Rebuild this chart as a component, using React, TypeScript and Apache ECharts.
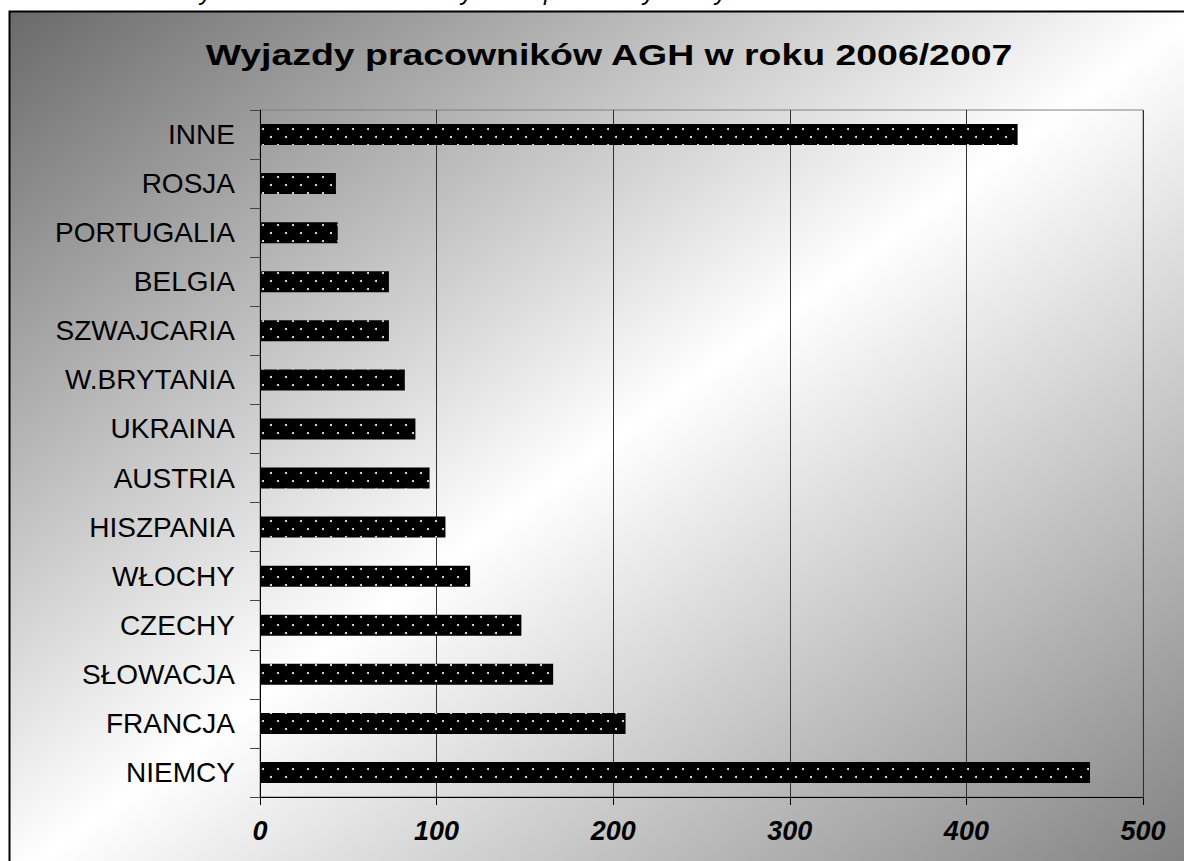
import React, { useEffect, useRef } from "react";
import * as echarts from "echarts";

const categories = [
  "INNE",
  "ROSJA",
  "PORTUGALIA",
  "BELGIA",
  "SZWAJCARIA",
  "W.BRYTANIA",
  "UKRAINA",
  "AUSTRIA",
  "HISZPANIA",
  "WŁOCHY",
  "CZECHY",
  "SŁOWACJA",
  "FRANCJA",
  "NIEMCY",
];
const values = [429, 43, 44, 73, 73, 82, 88, 96, 105, 119, 148, 166, 207, 470];
const titleText = "Wyjazdy pracowników AGH w roku 2006/2007";
const topCutGlyphs = [
  { ch: "y", x: 200 },
  { ch: "y", x: 461 },
  { ch: "p", x: 544 },
  { ch: "y", x: 643 },
  { ch: "y", x: 715 },
];

export default function App() {
  const ref = useRef<HTMLDivElement>(null);
  useEffect(() => {
    if (!ref.current) return;
    const chart = echarts.init(ref.current, undefined, { renderer: "svg" });
    const font = '"Liberation Sans", Arial, sans-serif';
    chart.setOption({
      animation: false,
      graphic: [
        {
          type: "rect",
          z: -100,
          silent: true,
          shape: { x: 9.5, y: 11.5, width: 1190, height: 870 },
          style: {
            fill: new echarts.graphic.LinearGradient(0, 0, 1, 1, [
              { offset: 0, color: "#6a6a6a" },
              { offset: 0.5, color: "#ffffff" },
              { offset: 1, color: "#7e7e7e" },
            ]),
            stroke: "#000",
            lineWidth: 2,
          },
        },
        {
          type: "text",
          z: 10,
          x: 609,
          y: 55,
          scaleX: 1.29,
          style: {
            text: titleText,
            font: `bold 29px ${font}`,
            fill: "#000",
            textAlign: "center",
            textVerticalAlign: "middle",
          },
        },
        ...topCutGlyphs.map((g) => ({
          type: "text",
          z: 10,
          x: g.x,
          y: 3,
          style: {
            text: g.ch,
            font: `italic 24px ${font}`,
            fill: "#000",
            textAlign: "left",
            textVerticalAlign: "bottom",
          },
        })),
      ],
      grid: {
        left: 260,
        right: 41,
        top: 110,
        bottom: 64,
        show: true,
        borderColor: "#808080",
        borderWidth: 1,
        backgroundColor: "transparent",
      },
      xAxis: {
        type: "value",
        min: 0,
        max: 500,
        interval: 100,
        axisLine: { show: true, lineStyle: { color: "#000", width: 1 } },
        axisTick: { show: true, length: 8, lineStyle: { color: "#000" } },
        splitLine: { show: true, lineStyle: { color: "#303030", width: 1 } },
        axisLabel: {
          margin: 20,
          color: "#000",
          fontFamily: font,
          fontSize: 27,
          fontWeight: "bold",
          fontStyle: "italic",
        },
      },
      yAxis: {
        type: "category",
        data: categories,
        inverse: true,
        axisLine: { show: true, lineStyle: { color: "#000", width: 1 } },
        axisTick: { show: true, length: 10, lineStyle: { color: "#444" } },
        splitLine: { show: false },
        axisLabel: {
          margin: 25,
          color: "#000",
          fontFamily: font,
          fontSize: 28,
        },
      },
      series: [
        {
          type: "bar",
          data: values,
          barWidth: 21,
          itemStyle: {
            color: "#000",
            decal: {
              symbol: "circle",
              symbolSize: 1,
              color: "#ffffff",
              dashArrayX: [
                [2, 13],
                [0, 7, 2, 6],
              ],
              dashArrayY: [2, 6],
              rotation: 0,
            },
          },
        },
      ],
    });
    return () => chart.dispose();
  }, []);
  return (
    <div
      ref={ref}
      style={{ position: "absolute", left: 0, top: 0, width: 1184, height: 861 }}
    />
  );
}
